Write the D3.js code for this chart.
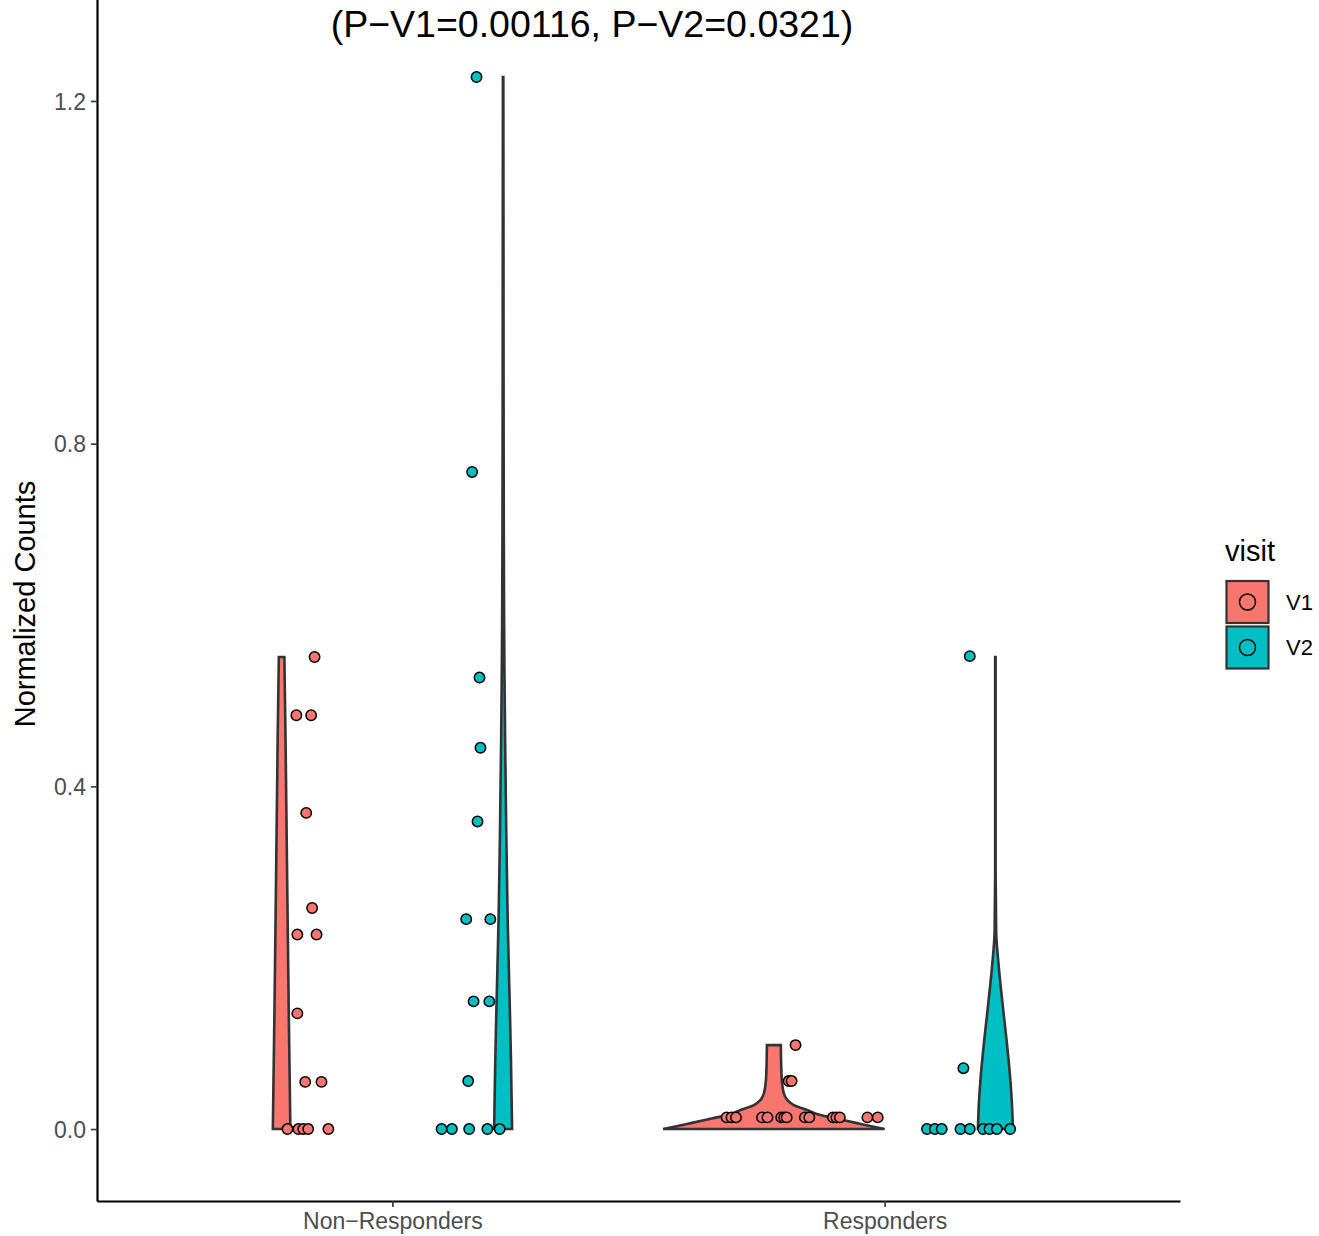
<!DOCTYPE html>
<html><head><meta charset="utf-8">
<script src="https://cdn.jsdelivr.net/npm/d3@7"></script>
<style>body{margin:0;background:#fff}svg{display:block}</style>
</head><body><svg id="c" width="1319" height="1236"></svg>
<script>
// ---- data ----
const categories = ["Non\u2212Responders", "Responders"];
const visits = ["V1", "V2"];
const visitColors = ["#F8766D", "#00BFC4"];
const yTicks = [0.0, 0.4, 0.8, 1.2];
const titleText = "(P\u2212V1=0.00116, P\u2212V2=0.0321)";
const yTitle = "Normalized Counts";
const legendTitle = "visit";

// points: values and horizontal jitter (category units)
const nrV1Values = [0.551, 0.483, 0.483, 0.369, 0.258, 0.227, 0.227, 0.135, 0.055, 0.055, 0, 0, 0, 0, 0];
const nrV1Jitter = [-0.158, -0.195, -0.165, -0.175, -0.163, -0.193, -0.154, -0.193, -0.177, -0.144, -0.213, -0.191, -0.181, -0.171, -0.130];
const nrV2Values = [1.228, 0.767, 0.527, 0.445, 0.359, 0.245, 0.245, 0.149, 0.149, 0.056, 0, 0, 0, 0, 0];
const nrV2Jitter = [0.171, 0.162, 0.177, 0.179, 0.173, 0.150, 0.199, 0.165, 0.197, 0.154, 0.100, 0.121, 0.156, 0.193, 0.218];
const rV1Values = [0.098, 0.056, 0.056, 0.0136, 0.0136, 0.0136, 0.0136, 0.0136, 0.0136, 0.0136, 0.0136, 0.0136, 0.0136, 0.0136, 0.0136, 0.0136, 0.0136, 0.0136];
const rV1Jitter = [-0.181, -0.195, -0.189, -0.321, -0.311, -0.302, -0.249, -0.238, -0.210, -0.204, -0.199, -0.162, -0.153, -0.105, -0.098, -0.091, -0.035, -0.014];
const rV2Values = [0.552, 0.071, 0, 0, 0, 0, 0, 0, 0, 0, 0];
const rV2Jitter = [0.173, 0.160, 0.086, 0.102, 0.116, 0.154, 0.173, 0.200, 0.213, 0.228, 0.255];

// violin density profiles (value, relative density; 1 = full dodge width)
const nrV1DensY = [0, 0.05, 0.104, 0.229, 0.35, 0.45, 0.551];
const nrV1Dens  = [0.079, 0.074, 0.068, 0.056, 0.045, 0.036, 0.025];
const nrV2DensY = [0, 0.08, 0.149, 0.245, 0.35, 0.455, 0.55, 0.7, 0.9, 1.1, 1.228];
const nrV2Dens  = [0.081, 0.071, 0.059, 0.041, 0.028, 0.018, 0.011, 0.006, 0.004, 0.003, 0.002];
const rV1DensY = [0, 0.0027, 0.0066, 0.0136, 0.0163, 0.0222, 0.028, 0.0339, 0.0436, 0.0572, 0.075, 0.098];
const rV1Dens  = [1.0, 0.90, 0.76, 0.515, 0.42, 0.30, 0.18, 0.12, 0.086, 0.072, 0.066, 0.063];
const rV2DensY = [0, 0.03, 0.057, 0.1, 0.135, 0.17, 0.2, 0.23, 0.3, 0.45, 0.551];
const rV2Dens  = [0.158, 0.149, 0.135, 0.104, 0.074, 0.045, 0.023, 0.007, 0.002, 0.002, 0.002];

const groups = [
  {cat: 0, visit: 0, vals: nrV1Values, jit: nrV1Jitter, dy: nrV1DensY, d: nrV1Dens},
  {cat: 0, visit: 1, vals: nrV2Values, jit: nrV2Jitter, dy: nrV2DensY, d: nrV2Dens},
  {cat: 1, visit: 0, vals: rV1Values, jit: rV1Jitter, dy: rV1DensY, d: rV1Dens},
  {cat: 1, visit: 1, vals: rV2Values, jit: rV2Jitter, dy: rV2DensY, d: rV2Dens}
];

// ---- layout ----
const FONT = "'Liberation Sans', Arial, Helvetica, sans-serif";
const svg = d3.select("#c");
const x = d3.scalePoint().domain(categories).range([97, 1180]).padding(0.6);
const step = x.step();
const y = d3.scaleLinear().domain([-0.084, 1.33]).range([1201, -10.4]);
const dodge = [-0.225, 0.225];
const halfW = 0.225;

// violins
const area = d3.area()
  .curve(d3.curveMonotoneY)
  .y(d => y(d.v))
  .x0(d => d.cx - d.w * halfW * step)
  .x1(d => d.cx + d.w * halfW * step);

groups.forEach(g => {
  const cx = x(categories[g.cat]) + dodge[g.visit] * step;
  const pts = g.dy.map((v, i) => ({v, w: g.d[i], cx}));
  svg.append("path")
    .attr("d", area(pts) + "Z")
    .attr("fill", visitColors[g.visit])
    .attr("stroke", "#333333")
    .attr("stroke-width", 2.6)
    .attr("stroke-linejoin", "miter");
});

// points
groups.forEach(g => {
  const cx0 = x(categories[g.cat]);
  svg.append("g").selectAll("circle")
    .data(g.vals.map((v, i) => ({v, j: g.jit[i]})))
    .join("circle")
    .attr("cx", d => cx0 + d.j * step)
    .attr("cy", d => y(d.v))
    .attr("r", 5.2)
    .attr("fill", visitColors[g.visit])
    .attr("stroke", "#000")
    .attr("stroke-width", 1.5);
});

// axes
const yAxis = svg.append("g").attr("transform", "translate(97,0)")
  .call(d3.axisLeft(y).tickValues(yTicks).tickFormat(d3.format(".1f")).tickSize(6).tickSizeOuter(0).tickPadding(5));
const xAxis = svg.append("g").attr("transform", "translate(0,1201)")
  .call(d3.axisBottom(x).tickSize(6).tickSizeOuter(0).tickPadding(4));
[yAxis, xAxis].forEach(a => {
  a.select(".domain").attr("stroke", "#000").attr("stroke-width", 2.2);
  a.selectAll(".tick line").attr("stroke", "#333").attr("stroke-width", 1.6);
  a.selectAll(".tick text").attr("fill", "#4D4D4D").style("font-family", FONT).style("font-size", "23px");
});
xAxis.selectAll(".tick text").attr("dy", "0.78em");
yAxis.selectAll(".tick text").attr("dy", "0.36em");

// y title
svg.append("text")
  .attr("transform", "translate(35,604) rotate(-90)")
  .attr("text-anchor", "middle")
  .style("font-family", FONT).style("font-size", "29px")
  .text(yTitle);

// title (second line visible)
svg.append("text")
  .attr("x", 592).attr("y", 37)
  .attr("text-anchor", "middle")
  .style("font-family", FONT).style("font-size", "37.5px")
  .text(titleText);

// legend
const lg = svg.append("g");
lg.append("text").attr("x", 1225).attr("y", 561)
  .style("font-family", FONT).style("font-size", "29px").text(legendTitle);
visits.forEach((v, i) => {
  const top = 581 + i * 45.5;
  lg.append("rect").attr("x", 1226.5).attr("y", top).attr("width", 42).attr("height", 42)
    .attr("fill", visitColors[i]).attr("stroke", "#333").attr("stroke-width", 2.2);
  lg.append("circle").attr("cx", 1247.5).attr("cy", top + 21).attr("r", 8)
    .attr("fill", "none").attr("stroke", "#000").attr("stroke-width", 1.5);
  lg.append("text").attr("x", 1286).attr("y", top + 21).attr("dy", "0.36em")
    .style("font-family", FONT).style("font-size", "22px").text(v);
});
</script>
</body></html>
